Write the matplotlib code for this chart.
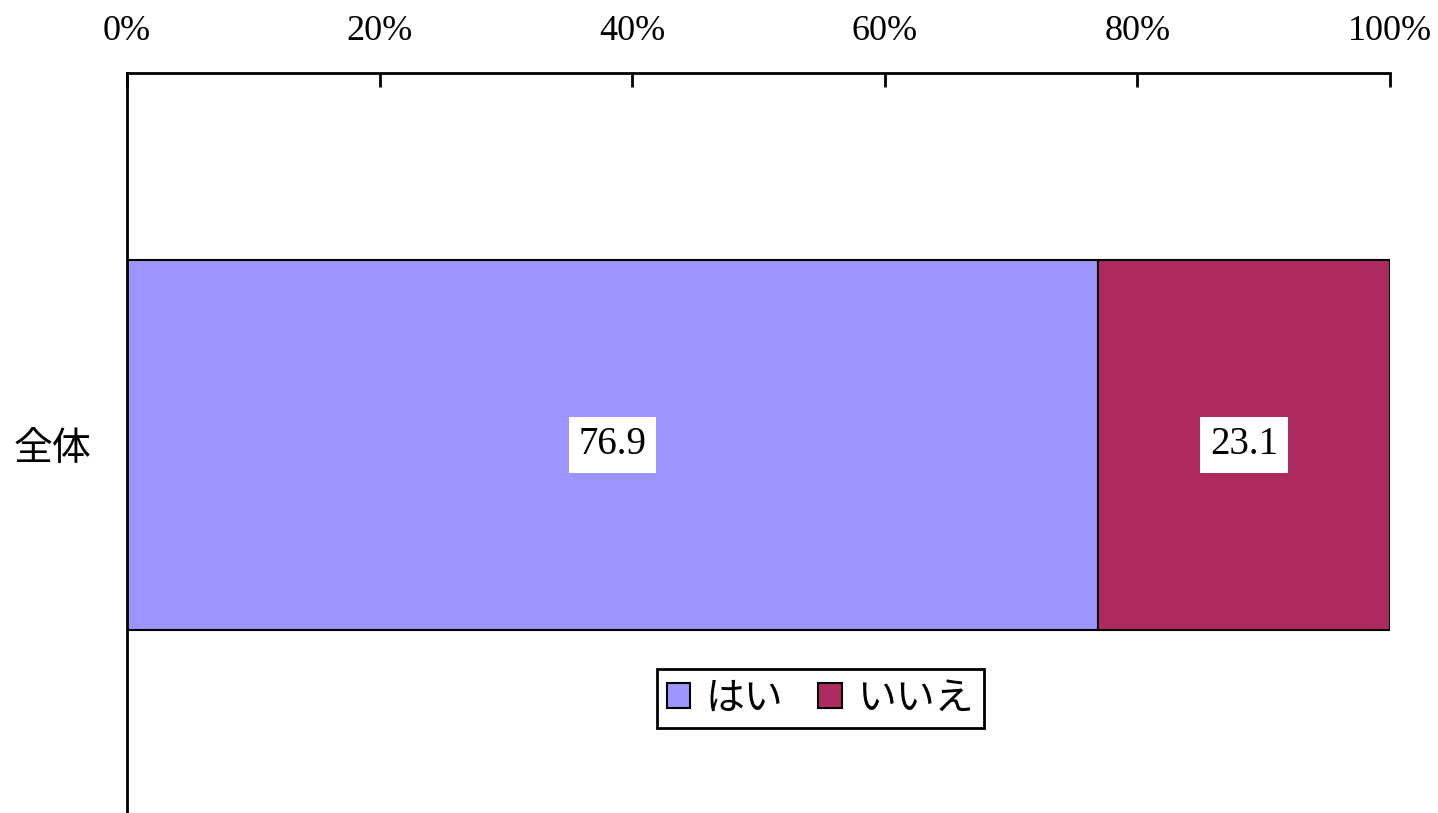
import matplotlib
matplotlib.use('Agg')
import matplotlib.pyplot as plt
import numpy as np

# data
categories = ['全体']
series_names = ['はい', 'いいえ']
values = [[76.9], [23.1]]
colors = ['#9D95FE', '#AE2B62']
xticks = [0, 20, 40, 60, 80, 100]
xtick_labels = ['0%', '20%', '40%', '60%', '80%', '100%']

serif = ['Liberation Serif', 'Noto Sans CJK JP']
cjk = ['Noto Sans CJK JP', 'DejaVu Sans']

fig = plt.figure(figsize=(14.38, 8.13), dpi=100)
ax = fig.add_axes([0.0883, 0.0, 0.8783, 0.9102])

y = np.arange(len(categories))
left = np.zeros(len(categories))
for name, vals, c in zip(series_names, values, colors):
    vals = np.array(vals)
    bars = ax.barh(y, vals, left=left, height=1.0, color=c, edgecolor='black',
                   linewidth=1.5, label=name)
    for b, v in zip(bars, vals):
        ax.text(b.get_x() + b.get_width() / 2, b.get_y() + b.get_height() / 2,
                f'{v:.1f}', ha='center', va='center', fontsize=28, family=serif,
                bbox=dict(facecolor='white', edgecolor='none', pad=7))
    left = left + vals

ax.set_xlim(0, 100)
ax.set_ylim(-0.995, 1.005)
ax.set_xticks(xticks)
ax.set_xticklabels(xtick_labels, family=serif, fontsize=26)
ax.xaxis.tick_top()
ax.tick_params(axis='x', direction='in', length=10, width=2, pad=18)
ax.set_yticks(y)
ax.set_yticklabels(categories, family=cjk, fontsize=28)
ax.tick_params(axis='y', length=0, pad=26)

for s in ['right', 'bottom']:
    ax.spines[s].set_visible(False)
for s in ['top', 'left']:
    ax.spines[s].set_linewidth(2)

leg = ax.legend(loc='center', bbox_to_anchor=(0.549, 0.155), ncol=2,
                prop={'family': cjk, 'size': 28}, frameon=True, fancybox=False,
                framealpha=1, edgecolor='black', handlelength=0.6, handleheight=0.6,
                handletextpad=0.4, columnspacing=0.9, borderpad=0.25,
                borderaxespad=0)
leg.get_frame().set_linewidth(2)

fig.savefig('out.png', dpi=100)
